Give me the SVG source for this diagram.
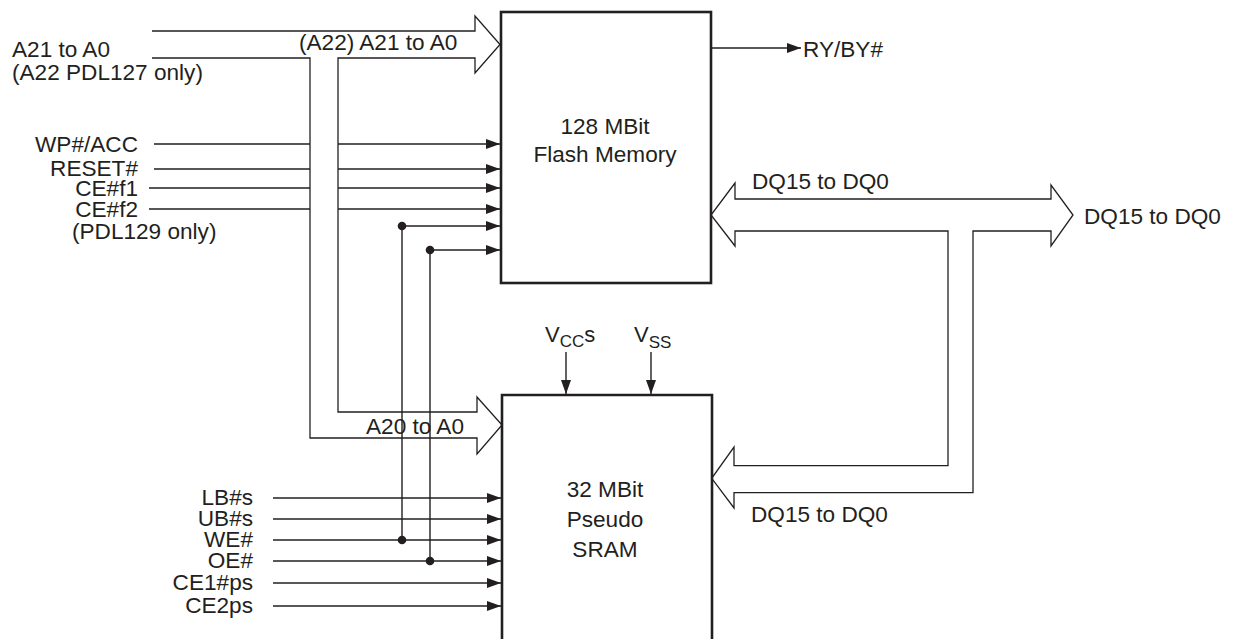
<svg xmlns="http://www.w3.org/2000/svg" width="1235" height="639" viewBox="0 0 1235 639">
<style>
text{font-family:"Liberation Sans",Arial,sans-serif;font-size:22.6px;fill:#231f20}
.sig{stroke:#231f20;stroke-width:1.4;fill:none}
.bus{stroke:#231f20;stroke-width:1.3;fill:none;stroke-linejoin:miter}
.box{stroke:#231f20;stroke-width:2.6;fill:none}
.r{text-anchor:end}
.c{text-anchor:middle}
.sub{font-size:17px}
</style>
<defs>
<marker id="ah" markerUnits="userSpaceOnUse" markerWidth="14" markerHeight="10" refX="14" refY="5" orient="auto">
<path d="M0,0 L14,5 L0,10 z" fill="#231f20"/>
</marker>
</defs>
<rect width="1235" height="639" fill="#fff"/>

<g id="flash">
<rect class="box" x="501" y="12" width="210" height="271"/>
<text class="c" x="605" y="134">128 MBit</text>
<text class="c" x="605" y="162">Flash Memory</text>
</g>

<g id="sram">
<path class="box" d="M502,640 L502,395 L712,395 L712,640"/>
<text class="c" x="605" y="497">32 MBit</text>
<text class="c" x="605" y="527">Pseudo</text>
<text class="c" x="605" y="557">SRAM</text>
</g>

<g id="labels">
<text x="12" y="57">A21 to A0</text>
<text x="12" y="80">(A22 PDL127 only)</text>
<text x="299" y="50">(A22) A21 to A0</text>
<text x="366" y="434">A20 to A0</text>
<text class="r" x="138" y="152">WP#/ACC</text>
<text class="r" x="138" y="176">RESET#</text>
<text class="r" x="138" y="196">CE#f1</text>
<text class="r" x="138" y="217">CE#f2</text>
<text x="72" y="239">(PDL129 only)</text>
<text x="803" y="57">RY/BY#</text>
<text x="752" y="189">DQ15 to DQ0</text>
<text x="1084" y="224">DQ15 to DQ0</text>
<text x="751" y="522">DQ15 to DQ0</text>
<text class="r" x="253" y="505">LB#s</text>
<text class="r" x="253" y="526">UB#s</text>
<text class="r" x="253" y="547">WE#</text>
<text class="r" x="253" y="568">OE#</text>
<text class="r" x="253" y="590">CE1#ps</text>
<text class="r" x="253" y="613">CE2ps</text>
<text x="545" y="342" style="font-size:22px">V<tspan class="sub" dy="5">CC</tspan><tspan dy="-5" style="font-size:22px">s</tspan></text>
<text x="634" y="342" style="font-size:22px">V<tspan class="sub" dy="6">SS</tspan></text>
</g>

<g id="connectors">
<polyline class="bus" points="152,31 475,31 475,16 500,44.5 475,73 475,58 338,58 338,412 477,412 477,397 502,425 477,454 477,438 310,438 310,58 152,58"/>
<polygon class="bus" points="735,199 1051,199 1051,185 1073,215 1051,246 1051,231 973,231 973,492.7 734,492.7 734,508 711.7,478.3 734,447 734,465.7 948,465.7 948,231 735,231 735,246 711,215 735,183"/>

<path class="sig" d="M154,144 H310 M154,169 H310 M149,188 H310 M149,209 H310"/>
<line class="sig" x1="338" y1="144" x2="500" y2="144" marker-end="url(#ah)"/>
<line class="sig" x1="338" y1="169" x2="500" y2="169" marker-end="url(#ah)"/>
<line class="sig" x1="338" y1="188" x2="500" y2="188" marker-end="url(#ah)"/>
<line class="sig" x1="338" y1="209" x2="500" y2="209" marker-end="url(#ah)"/>
<line class="sig" x1="402" y1="226" x2="500" y2="226" marker-end="url(#ah)"/>
<line class="sig" x1="430" y1="250" x2="500" y2="250" marker-end="url(#ah)"/>
<path class="sig" d="M402,226 V540 M430,250 V561"/>
<circle cx="402" cy="226" r="4.3" fill="#231f20"/>
<circle cx="430" cy="250" r="4.3" fill="#231f20"/>
<circle cx="402" cy="540" r="4.3" fill="#231f20"/>
<circle cx="430" cy="561" r="4.3" fill="#231f20"/>

<line class="sig" x1="712" y1="48" x2="801" y2="48" marker-end="url(#ah)"/>

<line class="sig" x1="273" y1="498" x2="501" y2="498" marker-end="url(#ah)"/>
<line class="sig" x1="273" y1="519" x2="501" y2="519" marker-end="url(#ah)"/>
<line class="sig" x1="273" y1="540" x2="501" y2="540" marker-end="url(#ah)"/>
<line class="sig" x1="273" y1="561" x2="501" y2="561" marker-end="url(#ah)"/>
<line class="sig" x1="273" y1="583" x2="501" y2="583" marker-end="url(#ah)"/>
<line class="sig" x1="273" y1="606" x2="501" y2="606" marker-end="url(#ah)"/>

<line class="sig" x1="566" y1="352" x2="566" y2="394" marker-end="url(#ah)"/>
<line class="sig" x1="651" y1="352" x2="651" y2="394" marker-end="url(#ah)"/>
</g>
</svg>
